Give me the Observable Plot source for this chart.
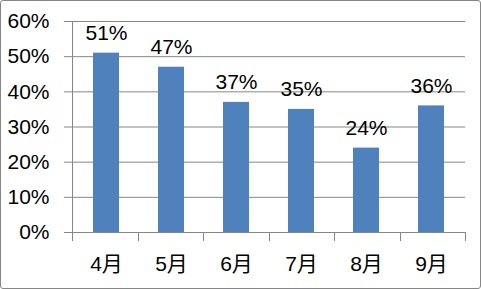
<!DOCTYPE html>
<html>
<head>
<meta charset="utf-8">
<script src="https://cdn.jsdelivr.net/npm/d3@7"></script>
<script src="https://cdn.jsdelivr.net/npm/@observablehq/plot@0.6"></script>
<style>
  body { margin: 0; background: #fff; }
  #chart { position: relative; width: 481px; height: 289px; }
  #chart::after {
    content: ""; position: absolute; left: 0; top: 0;
    width: 481px; height: 289px; box-sizing: border-box;
    border: 1px solid #868686; border-radius: 3px; pointer-events: none;
  }
</style>
</head>
<body>
<div id="chart"></div>
<script>
const months = ["4月", "5月", "6月", "7月", "8月", "9月"];
const shares = [0.51, 0.47, 0.37, 0.35, 0.24, 0.36];
const yTicks = [0, 0.1, 0.2, 0.3, 0.4, 0.5, 0.6];

const data = months.map((month, i) => ({month, share: shares[i]}));
const pct = d3.format(".0%");
const grey = "#868686";
const font = "'Liberation Sans', 'Noto Sans CJK JP', sans-serif";

// Vertical axis line plus the tick marks that separate the month categories
function categoryFrame(index, scales, values, dimensions) {
  const {width, marginLeft, marginRight} = dimensions;
  const n = months.length;
  const step = (width - marginLeft - marginRight) / n;
  const y0 = scales.y(0);
  const yTop = scales.y(yTicks[yTicks.length - 1]);
  const g = d3.create("svg:g").attr("stroke", grey).attr("stroke-width", 1);
  g.append("line")
    .attr("x1", marginLeft + 0.5).attr("x2", marginLeft + 0.5)
    .attr("y1", yTop).attr("y2", y0);
  for (let i = 0; i <= n; i++) {
    const xi = Math.round(marginLeft + i * step) + 0.5;
    g.append("line").attr("x1", xi).attr("x2", xi).attr("y1", y0).attr("y2", y0 + 9);
  }
  return g.node();
}

const chart = Plot.plot({
  width: 481,
  height: 289,
  marginLeft: 72,
  marginRight: 16,
  marginTop: 21,
  marginBottom: 57,
  style: {fontFamily: font, fontSize: "21px", color: "#000", background: "#fff"},
  x: {domain: months, paddingInner: 0.6, paddingOuter: 0.3, label: null},
  y: {domain: [0, 0.6], label: null},
  marks: [
    Plot.gridY(yTicks, {stroke: grey, strokeOpacity: 1}),
    Plot.axisY(yTicks, {tickFormat: pct, tickSize: 8, tickPadding: 15, stroke: grey, strokeOpacity: 1, fill: "#000", fontSize: 21}),
    Plot.axisX({tickSize: 0, tickPadding: 24, fill: "#000", fontSize: 21}),
    Plot.barY(data, {x: "month", y: "share", fill: "#4F81BD"}),
    Plot.ruleY([0], {stroke: grey}),
    Plot.text(data, {x: "month", y: "share", text: d => pct(d.share), lineAnchor: "bottom", dy: -13, fill: "#000", fontSize: 21}),
    categoryFrame
  ]
});

document.getElementById("chart").appendChild(chart);
</script>
</body>
</html>
